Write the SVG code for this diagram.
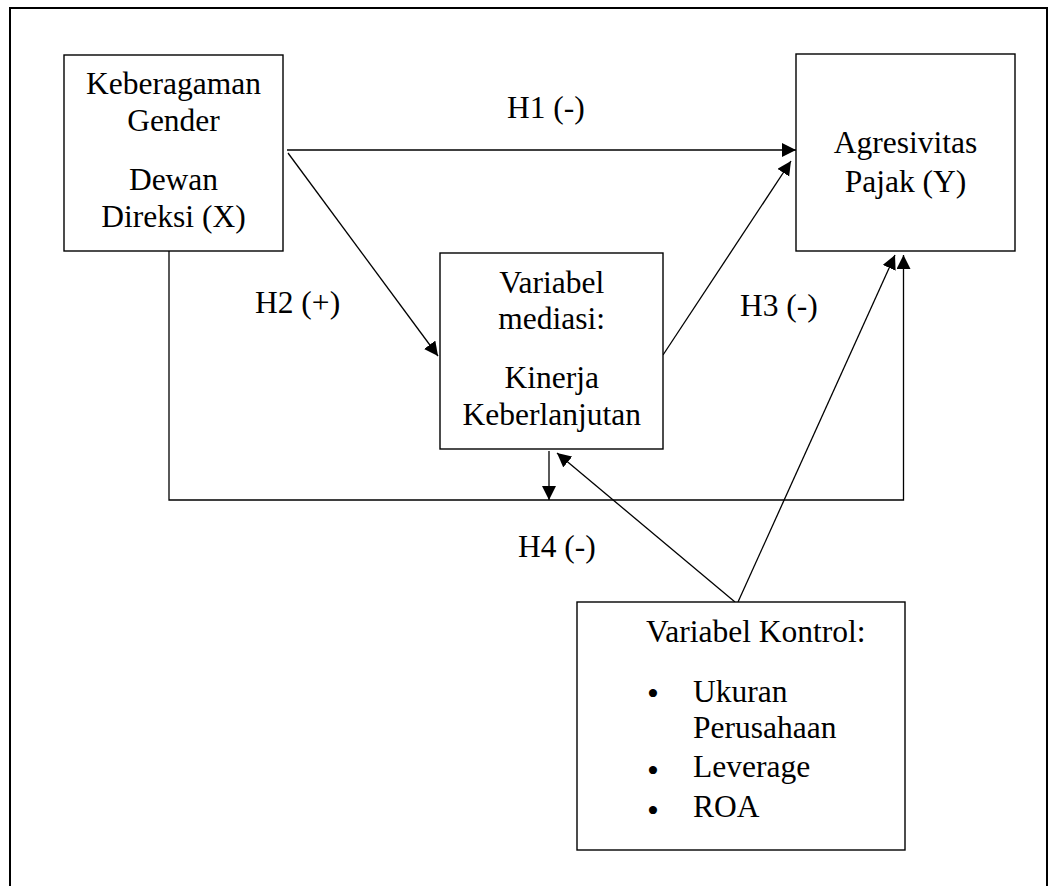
<svg xmlns="http://www.w3.org/2000/svg" width="1056" height="886" viewBox="0 0 1056 886">
<defs>
<marker id="ah" markerUnits="userSpaceOnUse" markerWidth="15" markerHeight="15" refX="14" refY="7" orient="auto">
<path d="M0,0 L14,7 L0,14 z" fill="#000"/>
</marker>
<style>
.box{fill:#fff;stroke:#000;stroke-width:1.4}
.t{font-family:"Liberation Serif","Times New Roman",serif;font-size:31.5px;fill:#000}
.c{text-anchor:middle}
.b{font-size:34px}
.ln{fill:none;stroke:#000;stroke-width:1.3}
.ar{marker-end:url(#ah)}
</style>
</defs>
<rect width="1056" height="886" fill="#fff"/>
<path d="M10,886 V8 H1047 V886" fill="none" stroke="#000" stroke-width="2"/>

<g id="connectors">
<line class="ln ar" x1="287" y1="150" x2="796" y2="150"/>
<line class="ln ar" x1="288" y1="153" x2="438" y2="356"/>
<line class="ln ar" x1="663" y1="355" x2="791" y2="161"/>
<path class="ln ar" d="M169,251 V500 H903.5 V255"/>
<line class="ln ar" x1="549" y1="451" x2="549" y2="500"/>
<line class="ln ar" x1="735" y1="602" x2="557" y2="453"/>
<line class="ln ar" x1="738" y1="602" x2="895" y2="255"/>
</g>

<g id="labels">
<text class="t" x="507" y="118">H1 (-)</text>
<text class="t" x="255" y="313">H2 (+)</text>
<text class="t" x="740" y="316">H3 (-)</text>
<text class="t" x="518" y="557">H4 (-)</text>
</g>

<g id="node-x">
<rect class="box" x="64" y="55" width="219" height="196"/>
<text class="t c" x="173.5" y="94">Keberagaman</text>
<text class="t c" x="173.5" y="131">Gender</text>
<text class="t c" x="173.5" y="190">Dewan</text>
<text class="t c" x="173.5" y="227">Direksi (X)</text>
</g>

<g id="node-y">
<rect class="box" x="796" y="54" width="219" height="197"/>
<text class="t c" x="905.5" y="153">Agresivitas</text>
<text class="t c" x="905.5" y="192">Pajak (Y)</text>
</g>

<g id="node-m">
<rect class="box" x="440" y="253" width="223" height="196"/>
<text class="t c" x="551.7" y="293">Variabel</text>
<text class="t c" x="551.7" y="329">mediasi:</text>
<text class="t c" x="551.7" y="388">Kinerja</text>
<text class="t c" x="551.7" y="425">Keberlanjutan</text>
</g>

<g id="node-kontrol">
<rect class="box" x="577" y="602" width="328" height="248"/>
<text class="t" x="646" y="642">Variabel Kontrol:</text>
<text class="t c b" x="653" y="705">•</text>
<text class="t" x="693" y="702">Ukuran</text>
<text class="t" x="693" y="738">Perusahaan</text>
<text class="t c b" x="653" y="782">•</text>
<text class="t" x="693" y="777">Leverage</text>
<text class="t c b" x="653" y="822">•</text>
<text class="t" x="693" y="817">ROA</text>
</g>
</svg>
